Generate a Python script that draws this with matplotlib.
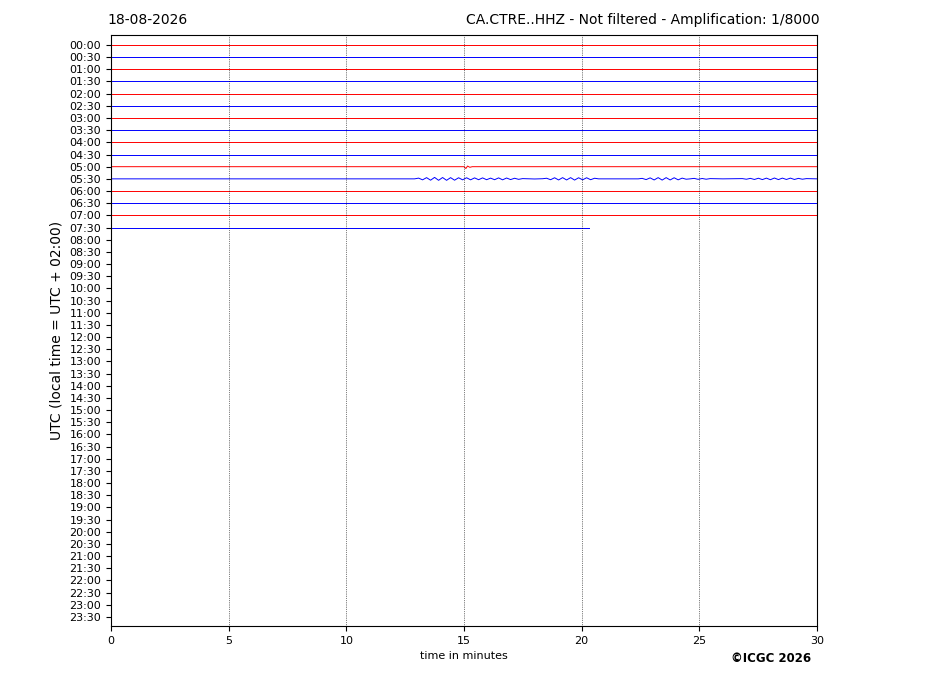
import matplotlib
matplotlib.use("Agg")
import matplotlib.pyplot as plt

# ---- data ----
row_labels = ["%02d:%02d" % (h, m) for h in range(24) for m in (0, 30)]
row_end_minutes = [30.0] * 15 + [20.3]          # rows with data (00:00 .. 07:30)
row_colors = ["red", "blue"]

# 05:00 trace: small blip near minute 15
blip_t = [0.0, 15.0, 15.08, 15.15, 15.25, 15.35, 30.0]
blip_v = [0.0, 0.0, -0.15, 0.05, -0.05, 0.0, 0.0]

# 05:30 trace: wave trains (offset in row units, positive = up)
event_t = [0.0, 12.73,
           12.90, 13.07, 13.24, 13.41, 13.58, 13.75, 13.92, 14.09, 14.26, 14.43, 14.60, 14.77, 14.94,
           15.11, 15.28, 15.45, 15.62, 15.79, 15.96, 16.13, 16.30, 16.47, 16.64, 16.81, 16.98, 17.15, 17.32, 17.49,
           17.66, 18.00, 18.34,
           18.51, 18.68, 18.85, 19.02, 19.19, 19.36, 19.53, 19.70, 19.87, 20.04, 20.21, 20.38, 20.55, 20.72,
           21.50, 22.40,
           22.57, 22.74, 22.91, 23.08, 23.25, 23.42, 23.59, 23.76, 23.93, 24.10, 24.27, 24.44,
           24.61, 24.78, 24.95, 25.12, 25.29, 25.46, 26.00,
           26.83, 27.00, 27.17, 27.34, 27.51, 27.68, 27.85, 28.02, 28.19, 28.36, 28.53, 28.70, 28.87, 29.04,
           29.21, 29.38, 29.55, 30.0]
event_v = [0.0, 0.0,
           0.0, 0.06, -0.08, 0.10, -0.11, 0.12, -0.12, 0.11, -0.12, 0.10, -0.11, 0.09, -0.08,
           0.09, -0.08, 0.08, -0.07, 0.08, -0.07, 0.06, -0.07, 0.08, -0.08, 0.07, -0.06, 0.05, -0.04, 0.02,
           0.01, -0.01, 0.01,
           0.05, -0.07, 0.09, -0.09, 0.10, -0.09, 0.10, -0.10, 0.09, -0.08, 0.09, -0.07, 0.05, 0.0,
           0.0, 0.0,
           0.04, -0.06, 0.08, -0.09, 0.10, -0.10, 0.10, -0.09, 0.09, -0.08, 0.06, -0.03,
           0.0, 0.04, -0.04, 0.03, -0.03, 0.02, 0.0,
           0.02, -0.03, 0.04, -0.05, 0.05, -0.06, 0.06, -0.07, 0.07, -0.06, 0.06, -0.05, 0.06, -0.05,
           0.04, -0.03, 0.02, 0.0]

x_ticks = [0, 5, 10, 15, 20, 25, 30]

# ---- figure ----
fig = plt.figure(figsize=(9.27, 6.96), dpi=100)
ax = fig.add_axes([111 / 927, 1 - 626 / 696, 706 / 927, 591 / 696])

for i, end in enumerate(row_end_minutes):
    color = row_colors[i % 2]
    if row_labels[i] == "05:00":
        ax.plot(blip_t, [i - v for v in blip_v], color=color, lw=0.7)
    elif row_labels[i] == "05:30":
        ax.plot(event_t, [i - v for v in event_v], color=color, lw=0.7)
    else:
        ax.plot([0, end], [i, i], color=color, lw=0.7)

for t in x_ticks[1:-1]:
    ax.axvline(t, color="black", lw=0.5, ls=":")

ax.set_xlim(0, 30)
ax.set_ylim(47.74, -0.82)
ax.set_xticks(x_ticks)
ax.set_xticklabels([str(t) for t in x_ticks], fontsize=8)
ax.set_yticks(range(len(row_labels)))
ax.set_yticklabels(row_labels, fontsize=8)
ax.set_xlabel("time in minutes", fontsize=8)
ax.set_ylabel("UTC (local time = UTC + 02:00)", fontsize=10)

fig.text(107 / 927, 1 - 20 / 696, "18-08-2026", fontsize=10, ha="left", va="center")
fig.text(820 / 927, 1 - 20 / 696, "CA.CTRE..HHZ - Not filtered - Amplification: 1/8000",
         fontsize=10, ha="right", va="center")
fig.text(811 / 927, 1 - 659 / 696, "\u00a9ICGC 2026", fontsize=8.5, fontweight="bold",
         ha="right", va="center")

fig.savefig("out.png", dpi=100)
